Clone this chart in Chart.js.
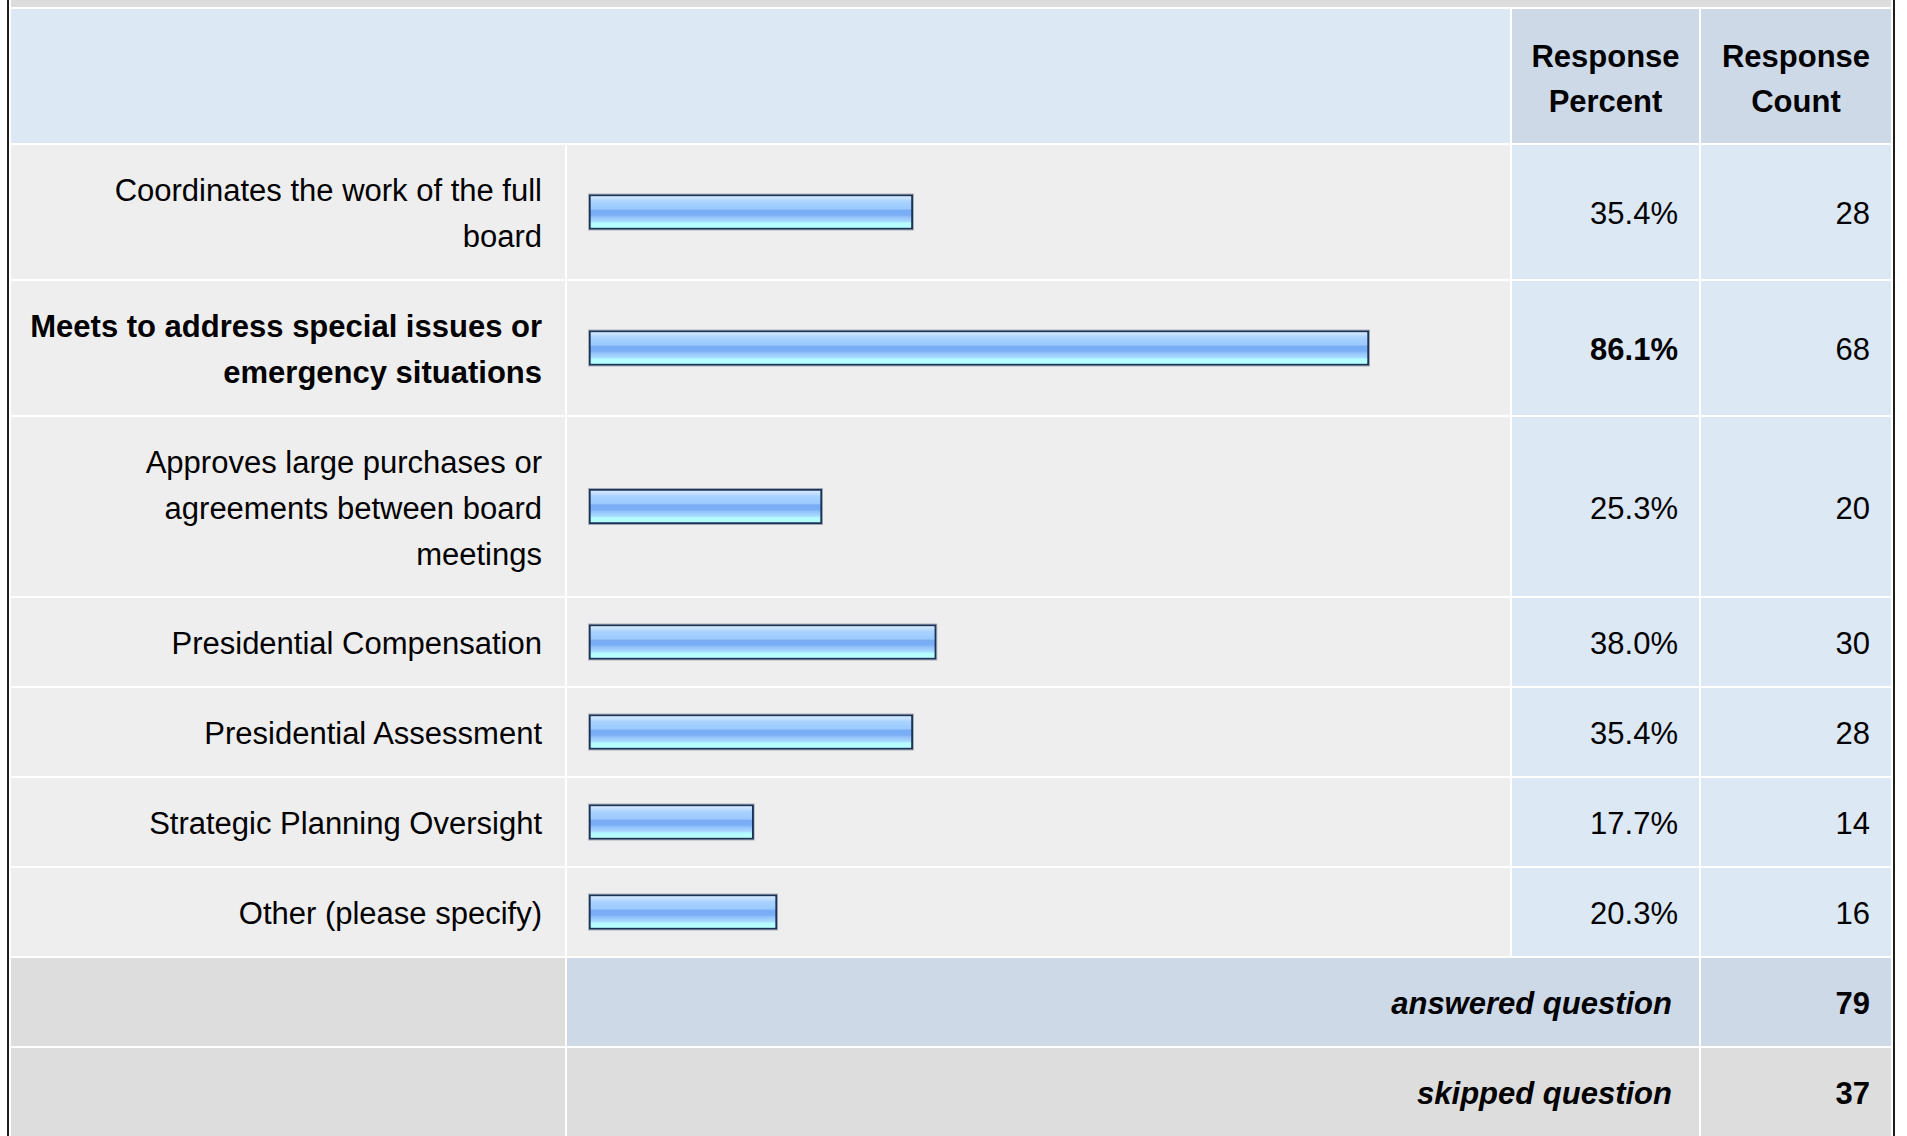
<!DOCTYPE html>
<html>
<head>
<meta charset="utf-8">
<script src="https://cdn.jsdelivr.net/npm/chart.js@4.4.1/dist/chart.umd.min.js"></script>
<style>
  html, body { margin: 0; padding: 0; background: #fff; overflow: hidden; }
  body { width: 1907px; height: 1136px; position: relative; font-family: "Liberation Sans", Arial, Helvetica, sans-serif; color: #000; }
  #wrap { position: absolute; left: 7px; top: -15px; border-left: 2px solid #1e1e1e; border-right: 2px solid #1e1e1e; }
  table { border-collapse: separate; border-spacing: 2px; background: #fff; table-layout: fixed; width: 1884px; }
  td { padding: 0; font-size: 31px; vertical-align: middle; overflow: hidden; }
  .strip { background: #dddddd; height: 20px; }
  .hblank { background: #dde8f5; }
  .hcol { background: #cdd9e7; font-weight: bold; text-align: center; line-height: 45px; padding-top: 5px; }
  .lbl { background: #eeeeee; text-align: right; padding-right: 23px; padding-top: 4px; line-height: 46px; white-space: pre-line; }
  .bar { background: #eeeeee; }
  .bar canvas { display: block; }
  .num { background: #dde8f5; text-align: right; padding-right: 21px; padding-top: 4px; }
  .bold { font-weight: bold; }
  .sumL { background: #dddddd; }
  .sumA { background: #cdd9e7; text-align: right; padding-right: 27px; padding-top: 3px; font-weight: bold; font-style: italic; }
  .sumS { background: #dddddd; text-align: right; padding-right: 27px; padding-top: 3px; font-weight: bold; font-style: italic; }
  .sumNA { background: #cdd9e7; text-align: right; padding-right: 21px; padding-top: 3px; font-weight: bold; }
  .sumNS { background: #dddddd; text-align: right; padding-right: 21px; padding-top: 3px; font-weight: bold; }
</style>
</head>
<body>
<div id="wrap">
  <table id="tbl">
    <colgroup>
      <col style="width:554px"><col style="width:943px"><col style="width:187px"><col style="width:190px">
    </colgroup>
    <tbody id="body"></tbody>
  </table>
</div>
<script>
// answer options, as they wrap in the label column
const options = [
    "Coordinates the work of the full\nboard",
    "Meets to address special issues or\nemergency situations",
    "Approves large purchases or\nagreements between board\nmeetings",
    "Presidential Compensation",
    "Presidential Assessment",
    "Strategic Planning Oversight",
    "Other (please specify)"
];
const percents = [35.4, 86.1, 25.3, 38.0, 35.4, 17.7, 20.3];
const counts = [28, 68, 20, 30, 28, 14, 16];
const answeredCount = 79;
const skippedCount = 37;

// row heights in px (layout only)
const rowHeights = [134, 134, 179, 88, 88, 88, 88];
const barColWidth = 943;
const barStart = -0.6;   // bars carry a few px of border before 0%

const tbody = document.getElementById('body');
const topPct = Math.max(...percents);

function addRow(html){
    let tr = document.createElement('tr');
    tr.innerHTML = html;
    tbody.appendChild(tr);
    return tr;
}

addRow('<td class="strip" colspan="4"></td>');
addRow('<td class="hblank" colspan="2" style="height:129px"></td>' +
       '<td class="hcol" style="height:129px">Response<br>Percent</td>' +
       '<td class="hcol" style="height:129px">Response<br>Count</td>');

const canvases = [];
for(let i=0; i < options.length; i++)
{
    let isTop = percents[i] === topPct;
    let tr = addRow(
        '<td class="lbl' + (isTop ? ' bold' : '') + '" style="height:' + (rowHeights[i] - 4) + 'px"></td>' +
        '<td class="bar"><canvas width="' + barColWidth + '" height="' + rowHeights[i] + '"></canvas></td>' +
        '<td class="num' + (isTop ? ' bold' : '') + '">' + percents[i].toFixed(1) + '%</td>' +
        '<td class="num">' + counts[i] + '</td>');
    tr.querySelector('.lbl').textContent = options[i];
    canvases.push(tr.querySelector('canvas'));
}

addRow('<td class="sumL" style="height:88px"></td>' +
       '<td class="sumA" colspan="2">answered question</td>' +
       '<td class="sumNA">' + answeredCount + '</td>');
addRow('<td class="sumL" style="height:88px"></td>' +
       '<td class="sumS" colspan="2">skipped question</td>' +
       '<td class="sumNS">' + skippedCount + '</td>');

// glossy blue fill; one category per chart so the bar sits mid chart area
function BarFill(c){
    const area = c.chart.chartArea;
    if(!area) return '#9ccaff';
    const mid = (area.top + area.bottom) / 2;
    const h = c.dataset.barThickness / 2 - 2;
    const g = c.chart.ctx.createLinearGradient(0, mid - h, 0, mid + h);
    g.addColorStop(0.00, '#d4e9ff');
    g.addColorStop(0.10, '#bcdcff');
    g.addColorStop(0.17, '#a8d2ff');
    g.addColorStop(0.40, '#9ccaff');
    g.addColorStop(0.45, '#79acf4');
    g.addColorStop(0.60, '#7aaef5');
    g.addColorStop(0.66, '#92c2fa');
    g.addColorStop(0.80, '#a8d8ff');
    g.addColorStop(0.86, '#b4fbff');
    g.addColorStop(1.00, '#b8ffff');
    return g;
}

// faint grey edge outside the dark border
const halo = {
    id: 'halo',
    afterDatasetsDraw(chart){
        const ctx = chart.ctx;
        chart.getDatasetMeta(0).data.forEach(b => {
            ctx.save();
            ctx.strokeStyle = 'rgba(40,60,90,0.35)';
            ctx.lineWidth = 1;
            ctx.strokeRect(Math.min(b.base, b.x) - 0.5, b.y - b.height/2 - 0.5, Math.abs(b.x - b.base) + 1, b.height + 1);
            ctx.restore();
        });
    }
};

for(let i=0; i < canvases.length; i++)
{
    new Chart(canvases[i], {
        type: 'bar',
        data: {
            labels: [options[i]],
            datasets: [{
                data: [percents[i]],
                base: barStart,
                backgroundColor: BarFill,
                borderColor: '#1b3358',
                borderWidth: 2,
                borderSkipped: false,
                barThickness: 35
            }]
        },
        options: {
            indexAxis: 'y',
            responsive: false,
            animation: false,
            events: [],
            layout: { padding: { left: 22, right: 16, top: 0, bottom: 0 } },
            plugins: { legend: { display: false }, tooltip: { enabled: false } },
            scales: {
                x: { min: barStart, max: 100, display: false },
                y: { display: false }
            }
        },
        plugins: [halo]
    });
}
</script>
</body>
</html>
